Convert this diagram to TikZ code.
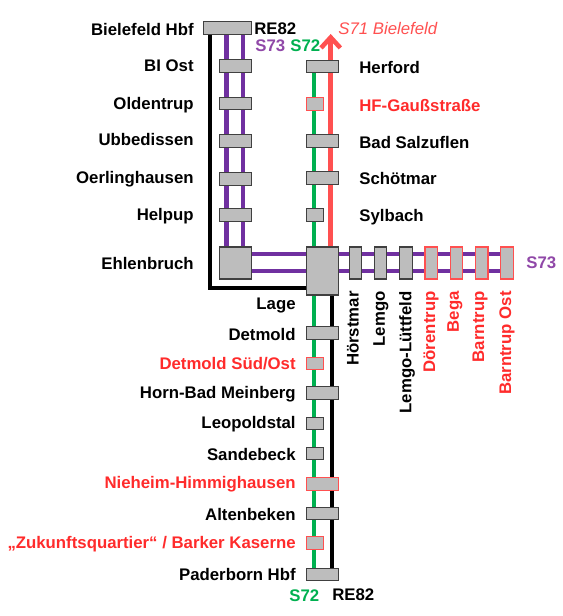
\documentclass[tikz,border=0pt]{standalone}
\usepackage{fontspec}
\setmainfont{Liberation Sans}
\usepackage{xcolor}
\usetikzlibrary{arrows.meta, backgrounds, calc}
\definecolor{linepurple}{HTML}{7030A0}
\definecolor{labelpurple}{HTML}{9048A8}
\definecolor{linegreen}{HTML}{00B050}
\definecolor{linered}{HTML}{FF5050}
\definecolor{labelred}{HTML}{FF2B2B}
\tikzset{
  %% Station box
  stn/.style={
    rectangle, draw=black!75, fill=black!26,
    inner sep=0pt, line width=0.8pt,
    minimum width=#1*0.02cm, minimum height=0.25cm,
    anchor=west
  },
  stn/.default=32,
  %% Planned station box
  newstn/.style={stn=#1, draw=linered},
  newstn/.default=16.5,
  %% Tall box on the branch
  brstn/.style={stn=12.5, minimum height=0.64cm, anchor=center},
  newbrstn/.style={brstn, draw=linered},
  %% Lines
  re/.style={draw=black, line width=2.4pt},
  sa/.style={draw=linepurple, line width=2.3pt},
  sb/.style={draw=linegreen, line width=2.3pt},
  sc/.style={draw=linered, line width=2.6pt},
  %% Labels
  lbl/.style={font=\fontsize{9.55}{11}\bfseries, inner sep=0pt},
  lblw/.style={lbl, anchor=east},
  lble/.style={lbl, anchor=west},
  lblup/.style={lbl, rotate=90, anchor=east},
}

\begin{document}
\begin{tikzpicture}[x=0.02cm, y=-0.02cm]

  \useasboundingbox (0,0) rectangle (562,616);

  %% Left column
  \node[stn=48.5] (hbfbi) at (202.5,28) {};
  \foreach \nam/\y in {biost/66, olden/103.5, ubbe/141, oerl/179, help/215}
    \node[stn] (\nam) at (219,\y) {};
  \node[stn, minimum height=0.64cm] (ehlen) at (219,263) {};

  %% Right column, top
  \node[stn] (herf) at (306,66.5) {};
  \node[newstn] (gauss) at (306,104) {};
  \node[stn] (bads) at (306,141) {};
  \node[stn] (schoet) at (306,178) {};
  \node[stn=16.5] (syl) at (306,215) {};
  \node[stn, minimum height=0.96cm] (lage) at (306,271) {};

  %% Right column, bottom
  \foreach \nam/\y in {det/333, horn/393, altb/513.5, pad/574.5}
    \node[stn] (\nam) at (306,\y) {};
  \foreach \nam/\y in {leop/423.5, sand/453.5}
    \node[stn=16.5] (\nam) at (306,\y) {};
  \node[newstn] (detsued) at (306,363.5) {};
  \node[newstn=32] (nieh) at (306,484) {};
  \node[newstn] (bark) at (306,543) {};

  %% Branch to the east
  \foreach \nam/\x in {hoer/355.5, lem/380.5, luett/406}
    \node[brstn] (\nam) at (\x,263) {};
  \foreach \nam/\x in {doer/431.3, bega/456.5, barn/481.7, barno/507}
    \node[newbrstn] (\nam) at (\x,263) {};

  %% Lines behind the boxes
  \begin{pgfonlayer}{background}
    \coordinate (arrowtip) at (330.7,34);
    \draw[re] ($(hbfbi.south west)+(7.5,0)$) |- ($(lage.south west)+(0,-8)$);
    \draw[sa] ($(hbfbi.south west)+(24,0)$) -- ($(ehlen.north west)+(7.5,0)$);
    \draw[sa] ($(hbfbi.south west)+(40.2,0)$) -- ($(ehlen.north west)+(23.7,0)$);
    \draw[sa] ($(ehlen.north east)+(0,8)$) -- ($(barno.north)+(0,8)$);
    \draw[sa] ($(ehlen.south east)+(0,-9)$) -- ($(barno.south)+(0,-9)$);
    \draw[sb] ($(herf.south west)+(8.3,0)$) -- ($(lage.north west)+(8.3,0)$);
    \draw[sb] ($(lage.south west)+(8.3,0)$) -- ($(pad.north west)+(8.3,0)$);
    \draw[sc, -{Straight Barb[length=6pt,width=11pt]}]
         ($(lage.north west)+(24.7,0)$) -- (arrowtip);
    \draw[re] ($(lage.south west)+(25.7,0)$) -- ($(pad.north west)+(25.7,0)$);
  \end{pgfonlayer}

  %% Station names, west side
  \foreach \nam/\y/\txt in {a/29.5/Bielefeld Hbf, b/66/BI Ost, c/105/Oldentrup,
                            d/139/Ubbedissen, e/179/Oerlinghausen,
                            f/216/Helpup, g/263.5/Ehlenbruch}
    \node[lblw] (name\nam) at (194,\y) {\txt};

  %% Station names, east side
  \foreach \nam/\y/\txt in {a/67/Herford, c/142/Bad Salzuflen,
                            d/178/Schötmar, e/217/Sylbach}
    \node[lble] (rname\nam) at (359,\y) {\txt};
  \node[lble, text=labelred] (rnameb) at (359,105) {HF-Gaußstraße};

  %% Station names, south
  \foreach \nam/\y/\txt in {a/306/Lage, b/334/Detmold, c/394/Horn-Bad Meinberg,
                            d/424/Leopoldstal, e/454/Sandebeck,
                            f/514/Altenbeken, g/574/Paderborn Hbf}
    \node[lblw] (sname\nam) at (296,\y) {\txt};
  \foreach \nam/\y/\txt in {h/364/{Detmold Süd/Ost}, i/484/Nieheim-Himmighausen,
                            j/544/{„Zukunftsquartier“ / Barker Kaserne}}
    \node[lblw, text=labelred] (sname\nam) at (296,\y) {\txt};

  %% Station names, branch
  \foreach \nam/\x/\txt in {a/353/Hörstmar, b/381/Lemgo, c/407/Lemgo-Lüttfeld}
    \node[lblup] (bname\nam) at (\x,291) {\txt};
  \foreach \nam/\x/\txt in {d/431/Dörentrup, e/455/Bega, f/480/Barntrup, g/507/Barntrup Ost}
    \node[lblup, text=labelred] (bname\nam) at (\x,291) {\txt};

  %% Line names
  \node[lble] (tagre) at (254,29) {RE82};
  \node[lble, text=labelpurple] (tagsa) at (255,46) {S73};
  \node[lble, text=linegreen] (tagsb) at (290,46) {S72};
  \node[lble, text=linered, font=\fontsize{9.55}{11}\itshape] (tagsc) at (338,29) {S71 Bielefeld};
  \node[lble, text=labelpurple] (tagsd) at (526,263) {S73};
  \node[lble, text=linegreen] (tagse) at (289,596) {S72};
  \node[lble] (tagrf) at (332,595) {RE82};

\end{tikzpicture}
\end{document}
